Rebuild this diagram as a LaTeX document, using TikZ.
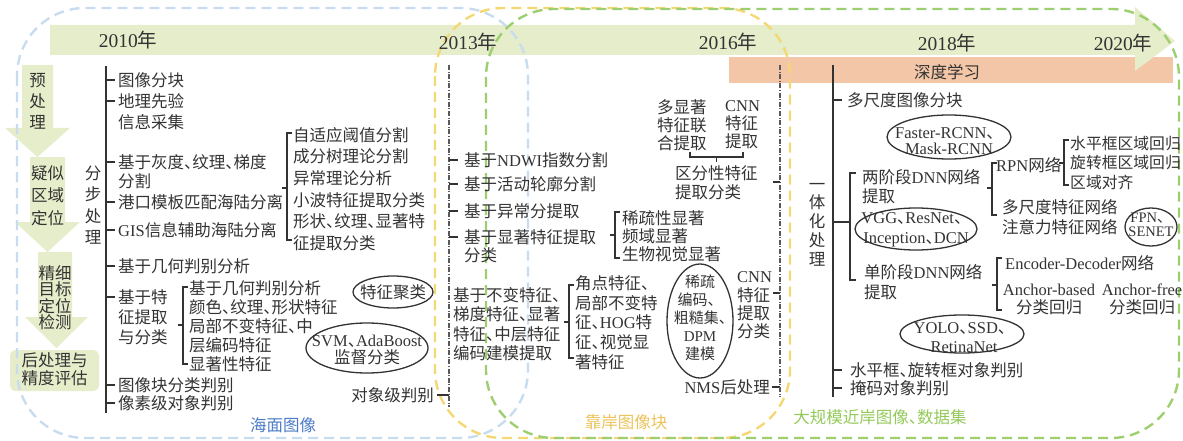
\documentclass[tikz,border=0pt]{standalone}
\usepackage{fontspec}
\setmainfont{Noto Sans CJK SC}
\newfontfamily\latf{Liberation Serif}
\newcommand\en[1]{{\latf #1}}
\newcommand\dun{\makebox[0.5em][l]{、}}
\newcommand\fs[2]{\fontsize{#1}{#2}\selectfont}
\newcommand\lbrk[4]{\draw[tree] (#1+5,#2) -- (#1,#2) -- (#1,#3) -- (#1+5,#3); \draw[tree] (#1-5,#4) -- (#1,#4);}
\definecolor{txtc}{HTML}{333333}
\definecolor{bandg}{HTML}{E6EDCA}
\definecolor{bando}{HTML}{F3C6A7}
\definecolor{dblue}{HTML}{C8DCF0}
\definecolor{dyel}{HTML}{F4D873}
\definecolor{dgrn}{HTML}{9DCF70}
\definecolor{lblue}{HTML}{4D7CC6}
\definecolor{lyel}{HTML}{ECC25A}
\definecolor{lgrn}{HTML}{94C95A}
\tikzset{
  txt/.style={inner sep=0pt, anchor=west, align=left, text=txtc, font=\fs{16.5}{20.5}},
  ctxt/.style={txt, anchor=center, align=center},
  tree/.style={draw=txtc, line width=1.2pt},
  dd/.style={draw=black!65, line width=1.2pt, dash pattern=on 5pt off 1.6pt on 1pt off 1.6pt},
  zone/.style={line width=2.4pt, dash pattern=on 10pt off 6pt, rounded corners=68pt},
  oval/.style={draw=txtc, line width=1.3pt},
}
\begin{document}
\begin{tikzpicture}[x=1pt,y=-1pt]
\useasboundingbox (0,0) rectangle (1183,441);
% bands
\fill[bando] (729,57) rectangle (1173,83);
\fill[bandg] (50,25) -- (1135,25) -- (1135,7) -- (1175,41) -- (1135,71) -- (1135,55) -- (50,55) -- cycle;
% left process arrows
\fill[bandg] (22,65) -- (53,65) -- (53,128) -- (70,128) -- (37.5,157) -- (5,128) -- (22,128) -- cycle;
\fill[bandg] (30,157) -- (65,157) -- (65,222) -- (80,222) -- (47.5,252) -- (15,222) -- (30,222) -- cycle;
\fill[bandg] (38,252) -- (72,252) -- (72,317) -- (88,317) -- (56.5,348) -- (25,317) -- (38,317) -- cycle;
\fill[bandg, rounded corners=6pt] (10,350) rectangle (99,391);
% zones
\draw[zone, dblue] (17,8) rectangle (528,438);
\draw[zone, dyel] (435,8) rectangle (790,438);
\draw[zone, dgrn] (486,9) rectangle (1179,438);
% years
\node[ctxt, font=\fs{19.5}{20}] (y2010) at (128,40) {\en{2010}年};
\node[ctxt, font=\fs{19.5}{20}] (y2013) at (468,42) {\en{2013}年};
\node[ctxt, font=\fs{19.5}{20}] (y2016) at (728,42) {\en{2016}年};
\node[ctxt, font=\fs{19.5}{20}] (y2018) at (947,43) {\en{2018}年};
\node[ctxt, font=\fs{19.5}{20}] (y2020) at (1123,43) {\en{2020}年};
\node[ctxt] (dl) at (947,72) {深度学习};
% left column text
\node[ctxt, font=\fs{16.5}{21}] (pre) at (37.5,101) {预\\处\\理};
\node[ctxt, font=\fs{16.5}{22.5}] (sus) at (47.5,195.5) {疑似\\区域\\定位};
\node[ctxt, font=\fs{16.5}{16.5}] (fine) at (55,297.5) {精细\\目标\\定位\\检测};
\node[ctxt, font=\fs{16.5}{18}] (post) at (54.5,369) {后处理与\\精度评估};
% ---------- tree 1
\node[ctxt, font=\fs{16.5}{21.3}] (fbcl) at (93,205) {分\\步\\处\\理};
\draw[tree] (106,66) -- (106,413);
\foreach \yy in {80,101,162,202,230,266,297,385,403} \draw[tree] (106,\yy) -- ++(9,0);
\node[txt] (a1) at (118,80) {图像分块};
\node[txt] (a2) at (118,111.5) {地理先验\\信息采集};
\node[txt, font=\fs{16.5}{19}] (a3) at (118,171.5) {基于灰度\dun 纹理\dun 梯度\\分割};
\node[txt] (a4) at (118,202) {港口模板匹配海陆分离};
\node[txt] (a5) at (118,230) {\en{GIS}信息辅助海陆分离};
\node[txt] (a6) at (118,266) {基于几何判别分析};
\node[txt, font=\fs{16.5}{20}] (a7) at (118,317) {基于特\\征提取\\与分类};
\node[txt] (a8) at (118,385) {图像块分类判别};
\node[txt] (a9) at (118,403) {像素级对象判别};
\lbrk{287}{133}{240}{188}
\node[txt, font=\fs{16.5}{21.6}] (sa) at (293,189) {自适应阈值分割\\成分树理论分割\\异常理论分析\\小波特征提取分类\\形状\dun 纹理\dun 显著特\\征提取分类};
\lbrk{183}{287}{364}{325}
\node[txt, font=\fs{16.5}{19}] (sb) at (189,326) {基于几何判别分析\\颜色\dun 纹理\dun 形状特征\\局部不变特征\dun 中\\层编码特征\\显著性特征};
\node[ctxt] (e1) at (393,292) {特征聚类};
\draw[oval] (e1.center) ellipse [x radius=40pt, y radius=16pt];
\node[ctxt, font=\fs{16.5}{17}] (e2) at (367,350) {\en{SVM}\dun\en{AdaBoost}\\监督分类};
\draw[oval] (e2.center) ++(0,-2) ellipse [x radius=61pt, y radius=25pt];
\node[txt, anchor=east] (obj) at (434,395) {对象级判别};
\draw[tree] (obj.east) ++(3,0) -- (449,395);
% ---------- tree 2
\draw[dd] (449,65) -- (449,407);
\foreach \yy in {160,184,211,237} \draw[tree] (449,\yy) -- ++(9,0);
\node[txt] (b1) at (464,160) {基于\en{NDWI}指数分割};
\node[txt] (b2) at (464,184) {基于活动轮廓分割};
\node[txt] (b3) at (464,211) {基于异常分提取};
\node[txt, font=\fs{16.5}{18}] (b4) at (464,246) {基于显著特征提取\\分类};
\lbrk{615}{212}{258}{235}
\node[txt, font=\fs{16.5}{18}] (sc) at (622,236) {稀疏性显著\\频域显著\\生物视觉显著};
\node[txt, font=\fs{16.5}{19.5}] (b5) at (453,324) {基于不变特征、\\梯度特征\dun 显著\\特征\dun 中层特征\\编码建模提取};
\lbrk{569}{285}{358}{322}
\node[txt, font=\fs{16.5}{19.75}] (sd) at (575,322.5) {角点特征、\\局部不变特\\征\dun\en{HOG}特\\征\dun 视觉显\\著特征};
\node[ctxt, font=\fs{15}{18}] (e3) at (700,317.5) {稀疏\\编码、\\粗糙集\dun\\\en{DPM}\\建模};
\draw[oval] (700,321) ellipse [x radius=33pt, y radius=57pt];
\node[txt, font=\fs{16.5}{18.3}] (cnn2) at (737,305.5) {\en{CNN}\\特征\\提取\\分类};
\draw[tree] (773,293) -- (780,293);
\node[txt, anchor=east] (nms) at (770,387) {\en{NMS}后处理};
\draw[tree] (nms.east) ++(2,0) -- (780,387);
\draw[dd] (780,65) -- (780,397);
\node[txt, font=\fs{16.5}{18}] (mf) at (657,125) {多显著\\特征联\\合提取};
\node[txt, font=\fs{16.5}{18}] (cnn1) at (725,125) {\en{CNN}\\特征\\提取};
\draw[tree] (690,152) -- (690,157) -- (743,157) -- (743,152);
\draw[tree] (716.5,157) -- (716.5,162);
\node[txt, font=\fs{16.5}{19}] (qf) at (675,182.5) {区分性特征\\提取分类};
\draw[tree] (773,182) -- (780,182);
% ---------- tree 3
\draw[tree] (833,65) -- (833,397);
\node[ctxt, font=\fs{16.5}{18.75}] (yth) at (817,224.5) {一\\体\\化\\处\\理};
\draw[tree] (833,100) -- (842,100);
\node[txt] (msc) at (847,100) {多尺度图像分块};
\draw[tree] (833,222) -- (850,222);
\draw[tree] (856,173) -- (850,173) -- (850,280) -- (856,280);
\node[txt, font=\fs{16.5}{19}] (two) at (862,186.5) {两阶段\en{DNN}网络\\提取};
\node[txt, font=\fs{16.5}{20}] (one) at (864,282) {单阶段\en{DNN}网络\\提取};
\node[ctxt, font=\fs{16.5}{16.5}] (fr) at (949,141) {\en{Faster-RCNN}、\\\en{Mask-RCNN}};
\draw[oval] (949,137) ellipse [x radius=62pt, y radius=22pt];
\node[ctxt, font=\fs{16.5}{20}] (vgg) at (916,230) {\en{VGG}\dun\en{ResNet}、\\\en{Inception}\dun\en{DCN}};
\draw[oval] (916,229) ellipse [x radius=61pt, y radius=21pt];
\lbrk{992}{163}{215}{188}
\node[txt] (rpn) at (996,165) {\en{RPN}网络};
\lbrk{1064}{140}{185}{163}
\node[txt, font=\fs{15.8}{19.5}] (reg) at (1070,162.5) {水平框区域回归\\旋转框区域回归\\区域对齐};
\node[txt, font=\fs{16.5}{20}] (msf) at (1002,217) {多尺度特征网络\\注意力特征网络};
\node[ctxt, font=\fs{14.5}{14}] (fpn) at (1151,225) {\en{FPN}、\\\en{SENET}};
\draw[oval] (1151,227) ellipse [x radius=26pt, y radius=19pt];
\lbrk{997}{258}{310}{285}
\node[txt] (ed) at (1005,263) {\en{Encoder-Decoder}网络};
\node[ctxt, font=\fs{16.5}{18}] (ab) at (1049,299) {\en{Anchor-based}\\分类回归};
\node[ctxt, font=\fs{16.5}{18}] (af) at (1142,299) {\en{Anchor-free}\\分类回归};
\node[ctxt, font=\fs{16.5}{19}] (yolo) at (964,337.5) {\en{YOLO}\dun\en{SSD}、\\\en{RetinaNet}};
\draw[oval] (962,334) ellipse [x radius=62pt, y radius=19pt];
\draw[tree] (833,370) -- (842,370);
\draw[tree] (833,388) -- (842,388);
\node[txt] (hb) at (850,370) {水平框\dun 旋转框对象判别};
\node[txt] (mask) at (850,388) {掩码对象判别};
% zone labels
\node[ctxt, text=lblue] (lb1) at (283,425) {海面图像};
\node[ctxt, text=lyel] (lb2) at (626,422) {靠岸图像块};
\node[ctxt, text=lgrn] (lb3) at (880,417) {大规模近岸图像\dun 数据集};
\end{tikzpicture}
\end{document}
